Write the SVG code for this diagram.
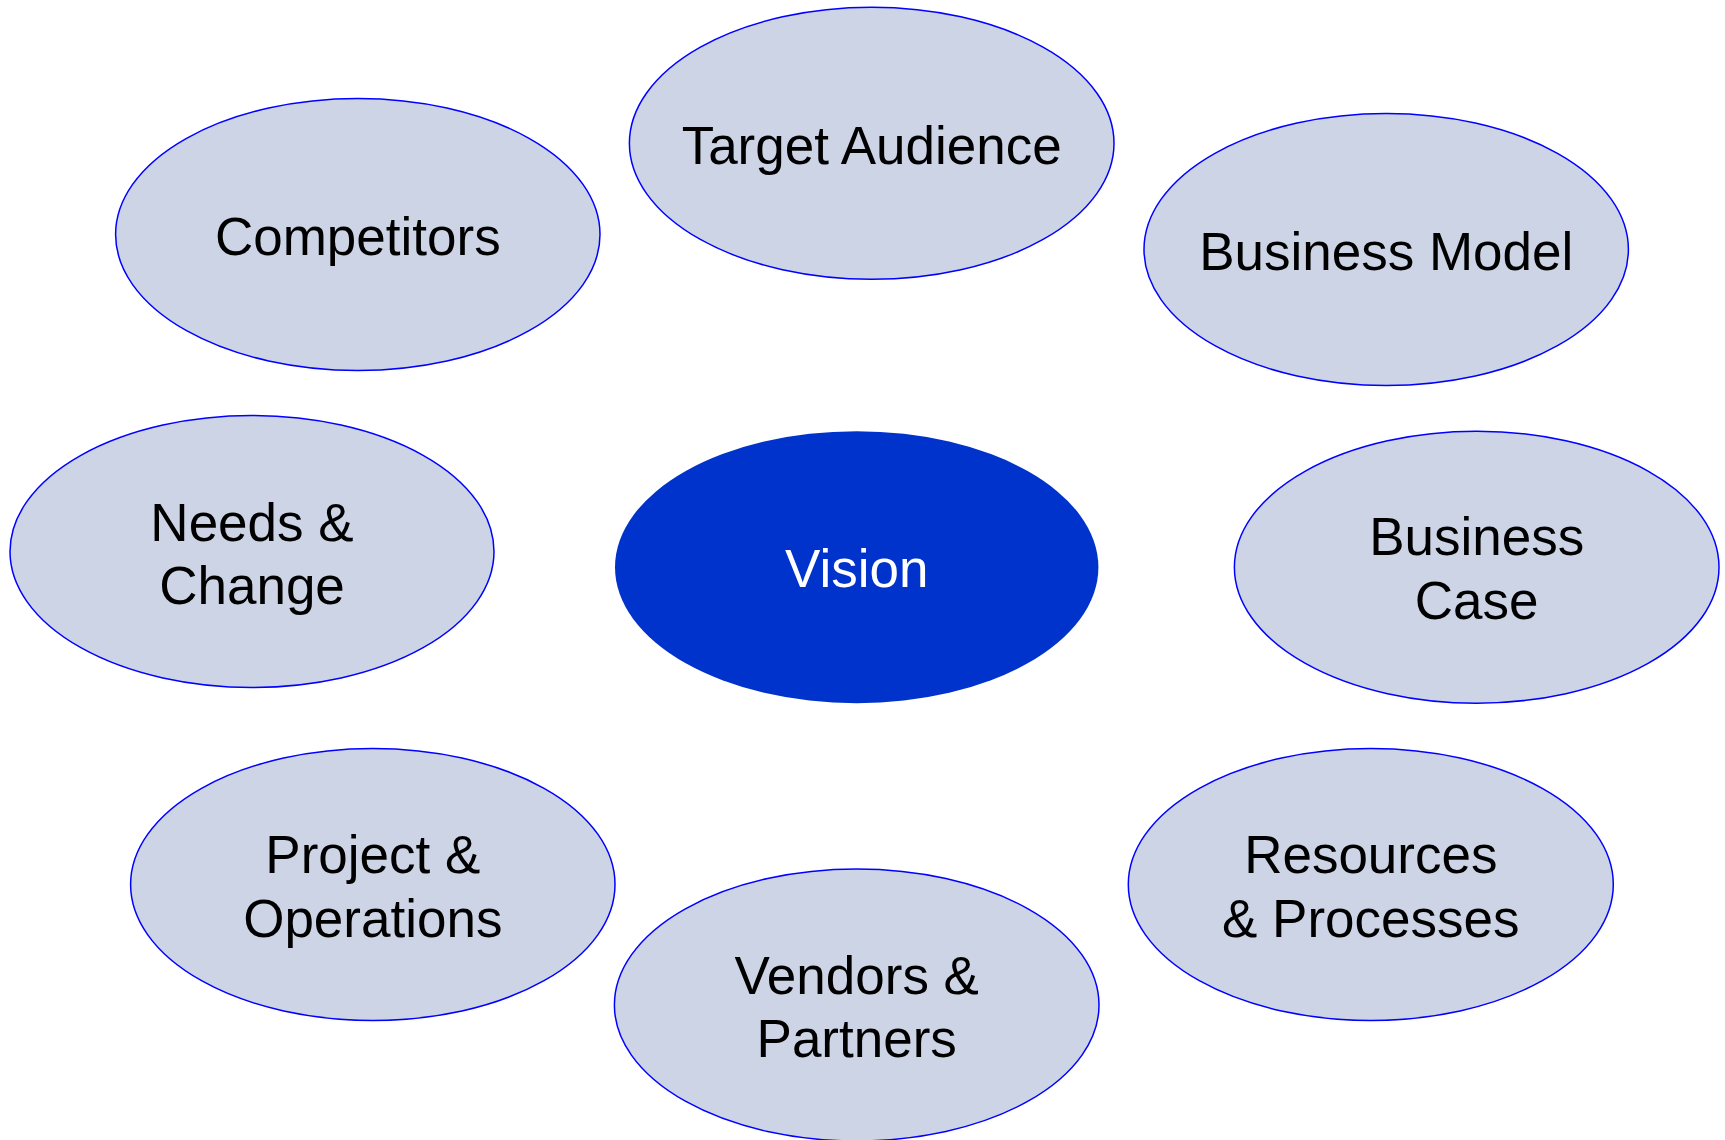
<svg xmlns="http://www.w3.org/2000/svg" width="1725" height="1140" viewBox="0 0 1725 1140">
<style>
.n{fill:#cdd4e6;stroke:#0000ff;stroke-width:1.5}
.c{fill:#0033cc;stroke:none}
text{font-family:"Liberation Sans",Arial,sans-serif;font-size:53px;text-anchor:middle;fill:#000}
.w{fill:#fff}
</style>
<rect width="1725" height="1140" fill="#fff"/>
<g id="connectors"/>
<g id="target-audience"><ellipse class="n" cx="871.7" cy="143.3" rx="242.3" ry="136"/><text x="871.7" y="164">Target Audience</text></g>
<g id="competitors"><ellipse class="n" cx="357.8" cy="234.5" rx="242.2" ry="136"/><text x="357.8" y="255">Competitors</text></g>
<g id="business-model"><ellipse class="n" cx="1386.2" cy="249.5" rx="242.2" ry="136"/><text x="1386.2" y="270">Business Model</text></g>
<g id="needs-change"><ellipse class="n" cx="252" cy="551.5" rx="242" ry="136"/><text x="252" y="540.7">Needs &amp;</text><text x="252" y="604">Change</text></g>
<g id="vision"><ellipse class="c" cx="856.7" cy="567.2" rx="241.7" ry="136"/><text class="w" x="856.7" y="586.7">Vision</text></g>
<g id="business-case"><ellipse class="n" cx="1476.7" cy="567.2" rx="242.3" ry="136"/><text x="1476.7" y="555">Business</text><text x="1476.7" y="619">Case</text></g>
<g id="project-operations"><ellipse class="n" cx="372.8" cy="884.5" rx="242.2" ry="136"/><text x="372.8" y="873.3">Project &amp;</text><text x="372.8" y="937.3">Operations</text></g>
<g id="resources-processes"><ellipse class="n" cx="1370.8" cy="884.5" rx="242.5" ry="136"/><text x="1370.8" y="873.3">Resources</text><text x="1370.8" y="937.3">&amp; Processes</text></g>
<g id="vendors-partners"><ellipse class="n" cx="856.7" cy="1005" rx="242.3" ry="136"/><text x="856.7" y="994">Vendors &amp;</text><text x="856.7" y="1057.3">Partners</text></g>
</svg>
